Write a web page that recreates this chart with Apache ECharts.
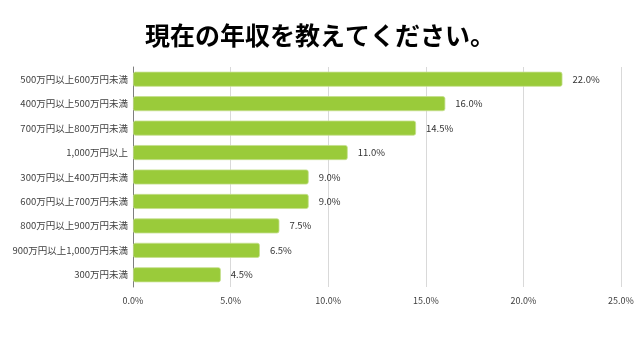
<!DOCTYPE html>
<html><head><meta charset="utf-8">
<script src="https://cdn.jsdelivr.net/npm/echarts@6/dist/echarts.min.js"></script>
<style>html,body{margin:0;padding:0;background:#fff}#c{width:640px;height:360px}</style>
</head><body><div id="c"></div>
<script>
const title = '現在の年収を教えてください。';
const categories = ['500万円以上600万円未満','400万円以上500万円未満','700万円以上800万円未満','1,000万円以上','300万円以上400万円未満','600万円以上700万円未満','800万円以上900万円未満','900万円以上1,000万円未満','300万円未満'];
const values = [22.0,16.0,14.5,11.0,9.0,9.0,7.5,6.5,4.5];
const font = '"Noto Sans CJK JP", "Noto Sans", sans-serif';
const chart = echarts.init(document.getElementById('c'));
chart.setOption({
  animation:false,
  title:{text:title,left:'center',top:18,textStyle:{fontFamily:font,fontSize:25,fontWeight:'bold',color:'#000'}},
  grid:{left:133,right:19,top:67,bottom:73,containLabel:false},
  xAxis:{type:'value',min:0,max:25,interval:5,
    axisLabel:{formatter:v=>v.toFixed(1)+'%',color:'#404040',fontSize:9,fontFamily:font,margin:9},
    splitLine:{lineStyle:{color:'#d9d9d9'}},axisLine:{show:false},axisTick:{show:false}},
  yAxis:{type:'category',inverse:true,data:categories,
    axisLabel:{color:'#404040',fontSize:9.5,fontFamily:font,margin:5},
    axisLine:{lineStyle:{color:'#7f7f7f'}},axisTick:{show:false}},
  series:[{type:'bar',data:values,barWidth:15,
    itemStyle:{color:'#9ACB3A',borderColor:'#c5e08e',borderWidth:0.8,borderRadius:2},
    label:{show:true,position:'right',distance:10,formatter:p=>p.value.toFixed(1)+'%',color:'#333',fontSize:9.5,fontFamily:font}}]
});
</script></body></html>
